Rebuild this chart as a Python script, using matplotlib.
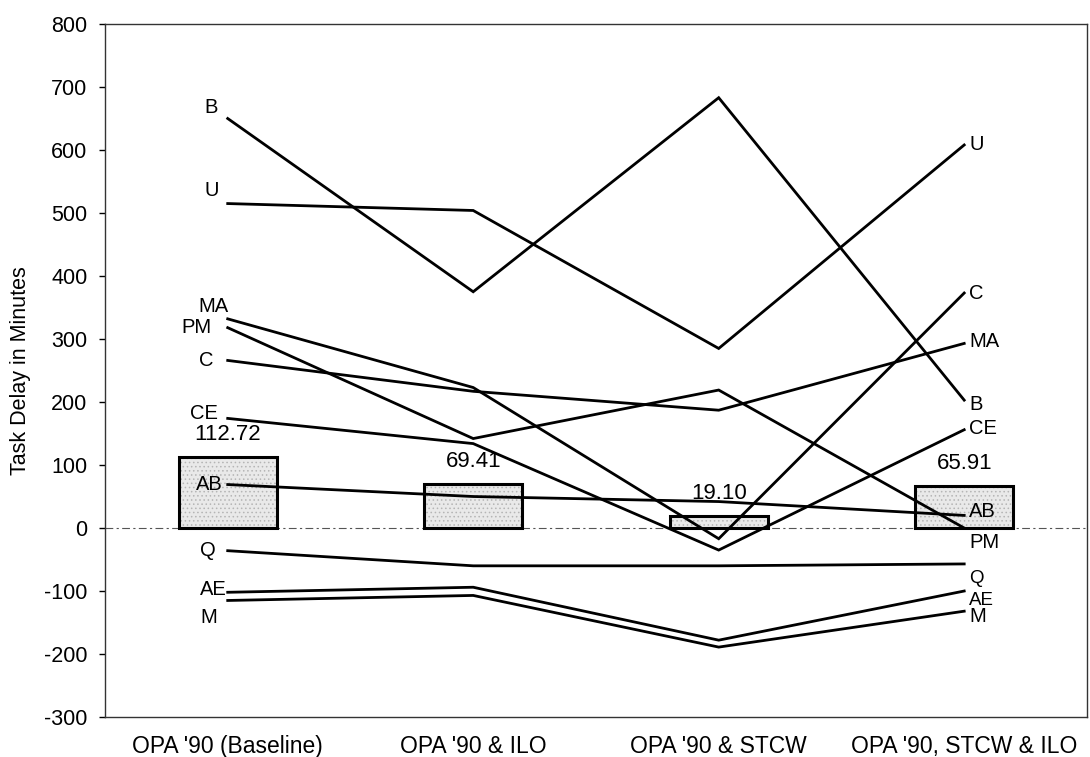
import matplotlib
matplotlib.use("Agg")
import matplotlib.pyplot as plt
import numpy as np

plt.rcParams["font.family"] = ["Liberation Sans", "DejaVu Sans"]
plt.rcParams["axes.unicode_minus"] = False
plt.rcParams["hatch.linewidth"] = 0.6

categories = ["OPA '90 (Baseline)", "OPA '90 & ILO", "OPA '90 & STCW", "OPA '90, STCW & ILO"]
bar_values = [112.72, 69.41, 19.10, 65.91]
bar_labels = ["112.72", "69.41", "19.10", "65.91"]

# one line per crew member, as drawn (labels at start and end of each line)
left_labels = ["B", "U", "MA", "PM", "C", "CE", "AB", "Q", "AE", "M"]
right_labels = ["B", "U", "C", "PM", "MA", "CE", "AB", "Q", "AE", "M"]
line_b = [650, 375, 683, 203]
line_u = [515, 504, 285, 608]
line_ma = [332, 223, -17, 373]
line_pm = [318, 142, 219, 0]
line_c = [266, 217, 187, 293]
line_ce = [174, 134, -35, 156]
line_ab = [69, 50, 42, 20]
line_q = [-36, -60, -60, -57]
line_ae = [-102, -94, -178, -100]
line_m = [-115, -107, -189, -132]
lines = [line_b, line_u, line_ma, line_pm, line_c, line_ce, line_ab, line_q, line_ae, line_m]

# label nudges in pixels (dx, dy)
left_nudge = [(-10, 11), (-9, 13), (1, 12), (-16, 0), (-14, 0),
              (-10, 5), (-5, 0), (-12, 0), (-1, 3), (-11, -17)]
right_nudge = [(5, -4), (5, 0), (5, 0), (5, -14), (5, 2),
               (5, 1), (5, 4), (5, -15), (5, -9), (5, -5)]

fig = plt.figure(figsize=(10.9, 7.57), dpi=100)
ax = fig.add_axes([0.0963, 0.0528, 0.9009, 0.9155])

x = np.arange(len(categories))
ax.bar(x, bar_values, width=0.4, color="#e9e9e9", edgecolor="#b5b5b5",
       hatch="....", linewidth=0, zorder=1)
ax.bar(x, bar_values, width=0.4, fill=False, edgecolor="black", linewidth=2.2, zorder=2)
for xi, v, lab in zip(x, bar_values, bar_labels):
    ax.annotate(lab, xy=(xi, v), xytext=(0, 12), textcoords="offset pixels",
                ha="center", va="bottom", fontsize=16)

ax.axhline(0, color="#555555", lw=0.8, ls=(0, (7, 3, 2, 3)), zorder=1)

for vals, ll, rl, ln, rn in zip(lines, left_labels, right_labels, left_nudge, right_nudge):
    ax.plot(x, vals, color="black", lw=2.0, zorder=3, solid_joinstyle="miter")
    ax.annotate(ll, xy=(x[0], vals[0]), xytext=ln, textcoords="offset pixels",
                ha="right", va="center", fontsize=14.5)
    ax.annotate(rl, xy=(x[-1], vals[-1]), xytext=rn, textcoords="offset pixels",
                ha="left", va="center", fontsize=14.5 if rl not in ("Q", "AE") else 13.5)

ax.set_xlim(-0.5, 3.5)
ax.set_ylim(-300, 800)
ax.set_yticks(np.arange(-300, 801, 100))
ax.set_xticks(x)
ax.set_xticklabels(categories, fontsize=16.5)
ax.tick_params(axis="x", length=0, pad=13)
ax.tick_params(axis="y", labelsize=15.5, length=4.5, width=1, pad=8)
ax.set_ylabel("Task Delay in Minutes", fontsize=15.5)
ax.yaxis.set_label_coords(-0.075, 0.5)
for s in ax.spines.values():
    s.set_linewidth(1)
    s.set_color("#333333")

fig.savefig("out.png", dpi=100)
